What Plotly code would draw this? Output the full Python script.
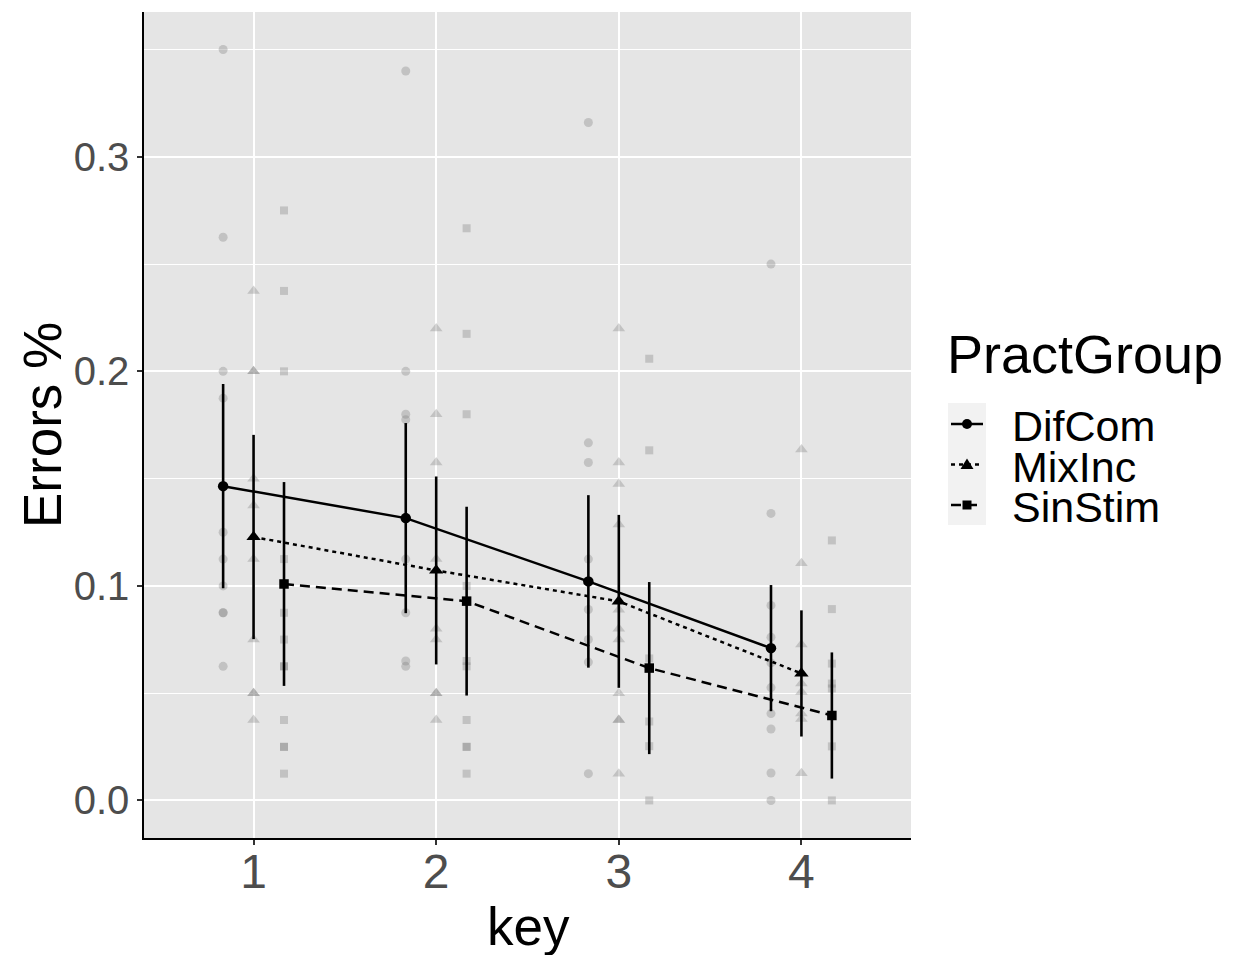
import plotly.graph_objects as go

# ---- data -------------------------------------------------------------
keys = [1, 2, 3, 4]
groups = ["DifCom", "MixInc", "SinStim"]

# individual error rates per key (one list per key)
difcom_raw = [
    [0.350, 0.2625, 0.200, 0.1875, 0.125, 0.1125, 0.100, 0.0875, 0.0875, 0.0625],
    [0.340, 0.200, 0.180, 0.1775, 0.1125, 0.0875, 0.065, 0.0625],
    [0.316, 0.1667, 0.1575, 0.1125, 0.089, 0.075, 0.0645, 0.0125],
    [0.250, 0.1338, 0.0909, 0.0761, 0.0641, 0.0526, 0.0405, 0.0333, 0.0128, 0.0],
]
mixinc_raw = [
    [0.2375, 0.200, 0.200, 0.150, 0.1375, 0.1125, 0.075, 0.050, 0.050, 0.0375],
    [0.220, 0.180, 0.1575, 0.1125, 0.080, 0.075, 0.050, 0.050, 0.0375],
    [0.220, 0.1575, 0.1475, 0.1286, 0.0889, 0.080, 0.075, 0.050, 0.0375, 0.0375, 0.0125],
    [0.1636, 0.1106, 0.0727, 0.0545, 0.0505, 0.0405, 0.038, 0.0127],
]
sinstim_raw = [
    [0.275, 0.2375, 0.200, 0.1125, 0.0875, 0.075, 0.0625, 0.0625, 0.0375, 0.025, 0.025, 0.0125],
    [0.2667, 0.2175, 0.180, 0.100, 0.065, 0.0625, 0.0375, 0.025, 0.025, 0.0125],
    [0.2059, 0.1632, 0.0662, 0.0368, 0.0253, 0.0],
    [0.1212, 0.0892, 0.0638, 0.0545, 0.0522, 0.0252, 0.0],
]

# group means and error-bar half widths per key
difcom_mean = [0.1465, 0.1316, 0.1021, 0.0710]
mixinc_mean = [0.1228, 0.1072, 0.0928, 0.0592]
sinstim_mean = [0.1009, 0.0929, 0.0617, 0.0396]
difcom_err = [0.0476, 0.0443, 0.0402, 0.0294]
mixinc_err = [0.0476, 0.0438, 0.0403, 0.0294]
sinstim_err = [0.0475, 0.0440, 0.0401, 0.0294]

y_ticks = [0.0, 0.1, 0.2, 0.3]
y_tick_text = ["0.0", "0.1", "0.2", "0.3"]
x_tick_text = ["1", "2", "3", "4"]

# ---- styling ----------------------------------------------------------
W, H = 1235, 956
L, R, T, B = 144, 324, 12, 118
FONT = "Liberation Sans, Arial, Helvetica, sans-serif"
dodge = [-1 / 6, 0.0, 1 / 6]
symbols = ["circle", "triangle-up", "square"]
raw_sizes = [9, 11, 8]
mean_sizes = [10.5, 12.5, 9.5]
dashes = ["solid", "4px,4px", "10px,6px"]

raws = [difcom_raw, mixinc_raw, sinstim_raw]
means = [difcom_mean, mixinc_mean, sinstim_mean]
errs = [difcom_err, mixinc_err, sinstim_err]

fig = go.Figure()

# raw observations (translucent grey)
for gi, g in enumerate(groups):
    xs, ys = [], []
    for ki, k in enumerate(keys):
        for v in raws[gi][ki]:
            xs.append(k + dodge[gi])
            ys.append(v)
    fig.add_trace(go.Scatter(
        x=xs, y=ys, mode="markers", showlegend=False, hoverinfo="skip",
        marker=dict(symbol=symbols[gi], size=raw_sizes[gi],
                    color="rgba(128,128,128,0.35)", line=dict(width=0)),
    ))

# means with error bars and connecting lines
for gi, g in enumerate(groups):
    fig.add_trace(go.Scatter(
        x=[k + dodge[gi] for k in keys], y=means[gi], name=g,
        mode="lines+markers", showlegend=False,
        line=dict(color="black", width=2.5, dash=dashes[gi]),
        marker=dict(symbol=symbols[gi], size=mean_sizes[gi], color="black",
                    line=dict(width=0)),
        error_y=dict(type="data", array=errs[gi], visible=True,
                     color="black", thickness=2.6, width=0),
    ))


# ---- legend drawn in paper coordinates --------------------------------
def px_x(p):
    return (p - L) / (W - L - R)


def px_y(p):
    return (H - B - p) / (H - T - B)


shapes = [dict(type="rect", xref="paper", yref="paper",
               x0=px_x(948), x1=px_x(986), y0=px_y(403), y1=px_y(525),
               fillcolor="#F2F2F2", line=dict(width=0), layer="above")]
key_y = [424, 464.5, 505]
for gi, g in enumerate(groups):
    cy = key_y[gi]
    shapes.append(dict(type="line", xref="paper", yref="paper",
                       x0=px_x(951), x1=px_x(983), y0=px_y(cy), y1=px_y(cy),
                       line=dict(color="black", width=2.5, dash=dashes[gi]),
                       layer="above"))
    cx = 967
    if symbols[gi] == "circle":
        r = 5
        shapes.append(dict(type="circle", xref="paper", yref="paper",
                           x0=px_x(cx - r), x1=px_x(cx + r),
                           y0=px_y(cy - r), y1=px_y(cy + r),
                           fillcolor="black", line=dict(width=0), layer="above"))
    elif symbols[gi] == "triangle-up":
        path = "M {} {} L {} {} L {} {} Z".format(
            px_x(cx), px_y(cy - 6), px_x(cx - 6.5), px_y(cy + 4.5),
            px_x(cx + 6.5), px_y(cy + 4.5))
        shapes.append(dict(type="path", xref="paper", yref="paper", path=path,
                           fillcolor="black", line=dict(width=0), layer="above"))
    else:
        r = 4.5
        shapes.append(dict(type="rect", xref="paper", yref="paper",
                           x0=px_x(cx - r), x1=px_x(cx + r),
                           y0=px_y(cy - r), y1=px_y(cy + r),
                           fillcolor="black", line=dict(width=0), layer="above"))

annotations = [
    dict(text="PractGroup", xref="paper", yref="paper",
         x=px_x(945), y=px_y(354), xanchor="left", yanchor="middle",
         height=62, valign="middle",
         showarrow=False, font=dict(family=FONT, size=54, color="black")),
    dict(text="Errors %", xref="paper", yref="paper", textangle=-90,
         x=px_x(42), y=px_y(425), xanchor="center", yanchor="middle",
         showarrow=False, font=dict(family=FONT, size=53, color="black")),
    dict(text="key", xref="paper", yref="paper",
         x=px_x(528), y=px_y(926), xanchor="center", yanchor="middle",
         height=58, valign="middle",
         showarrow=False, font=dict(family=FONT, size=53, color="black")),
]
for gi, g in enumerate(groups):
    annotations.append(dict(
        text=g, xref="paper", yref="paper", x=px_x(1010), y=px_y(key_y[gi] + 2),
        xanchor="left", yanchor="middle", height=38, valign="middle",
        showarrow=False, font=dict(family=FONT, size=43, color="black")))

fig.update_layout(
    width=W, height=H,
    margin=dict(l=L, r=R, t=T, b=B, pad=0),
    paper_bgcolor="white", plot_bgcolor="#E5E5E5",
    font=dict(family=FONT),
    showlegend=False,
    shapes=shapes, annotations=annotations,
    xaxis=dict(range=[0.4, 4.6], tickvals=keys, ticktext=x_tick_text,
               showgrid=True, gridcolor="white", gridwidth=2,
               zeroline=False, showline=True, linecolor="black", linewidth=1.5,
               ticks="outside", ticklen=5, tickwidth=1.5, tickcolor="#333333",
               ticklabelstandoff=-14,
               tickfont=dict(family=FONT, size=48, color="#4D4D4D")),
    yaxis=dict(range=[-0.0175, 0.3675], tickvals=y_ticks, ticktext=y_tick_text,
               showgrid=True, gridcolor="white", gridwidth=2,
               minor=dict(tick0=0.05, dtick=0.1, showgrid=True,
                          gridcolor="white", gridwidth=1),
               zeroline=False, showline=True, linecolor="black", linewidth=1.5,
               ticks="outside", ticklen=5, tickwidth=1.5, tickcolor="#333333",
               tickfont=dict(family=FONT, size=40, color="#4D4D4D")),
)

fig.write_html("out.html")
